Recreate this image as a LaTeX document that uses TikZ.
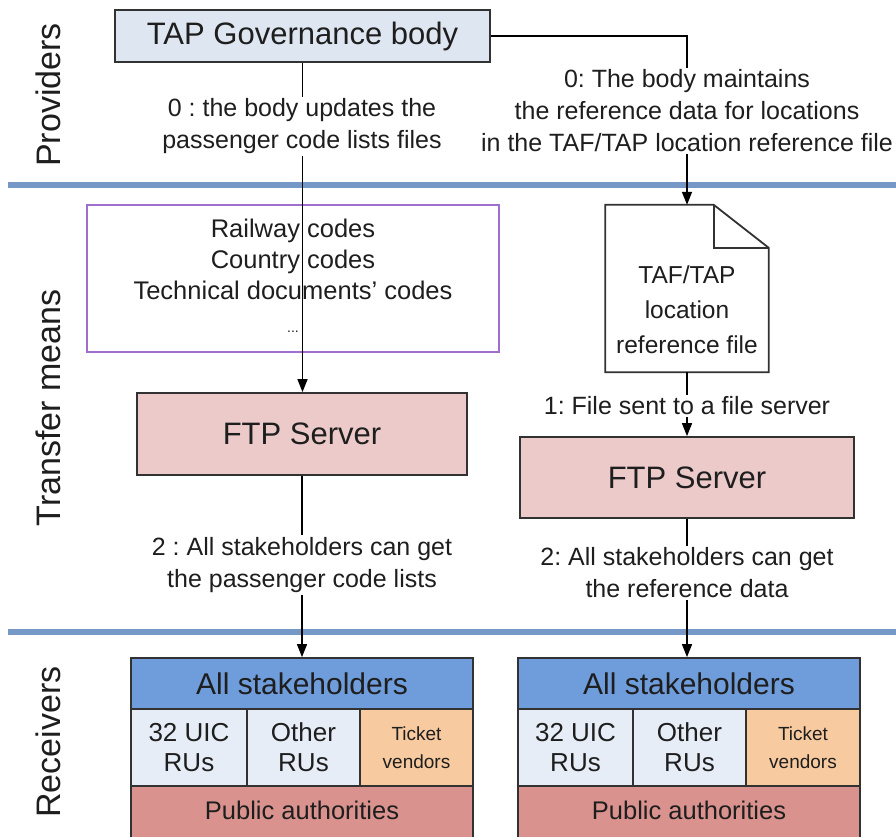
\documentclass[tikz,border=0pt]{standalone}
\usepackage{fontspec}
\setmainfont{Liberation Sans}
\frenchspacing
\usetikzlibrary{arrows.meta}
\definecolor{bandblue}{RGB}{118,152,198}
\definecolor{govfill}{RGB}{222,230,241}
\definecolor{framegray}{RGB}{50,50,50}
\definecolor{codesframe}{RGB}{160,110,205}
\definecolor{ftpfill}{RGB}{236,202,201}
\definecolor{allfill}{RGB}{111,156,218}
\definecolor{rufill}{RGB}{231,237,247}
\definecolor{vendorfill}{RGB}{248,202,160}
\definecolor{authfill}{RGB}{217,146,141}
\definecolor{inkgray}{RGB}{30,30,30}
\newcommand{\fsz}[2]{\fontsize{#1}{#2}\selectfont}
\tikzset{
  box/.style={draw=framegray, line width=1.8pt, minimum width=#1, inner sep=0pt, text=inkgray},
  lane/.style={rotate=90, text=inkgray, font=\fsz{34}{40}},
  flow/.style={draw=black, line width=1.5pt, -{Triangle[length=13pt,width=10pt]}},
  note/.style={fill=white, inner sep=2pt, align=center, text=inkgray, font=\fsz{25}{32}},
  band/.style={draw=bandblue, line width=6pt},
}
\begin{document}
\begin{tikzpicture}[x=1pt, y=-1pt]
\useasboundingbox (0,0) rectangle (896,836);
\clip (0,0) rectangle (896,836);

% lane titles and separators
\node[lane] (lprov) at (48,95) {Providers};
\node[lane] (ltrans) at (48,408) {Transfer means};
\node[lane] (lrecv) at (48,742) {Receivers};
\draw[band] (8,185) -- (896,185);
\draw[band] (8,632) -- (896,632);

% providers
\node[box=375pt, minimum height=52pt, fill=govfill, font=\fsz{31}{36}] (tap) at (302.5,36) {TAP Governance body};

% code lists (left column)
\node[draw=codesframe, line width=1.8pt, minimum width=412pt, minimum height=147pt, inner sep=0pt] (codes) at (293,278.5) {};
\node[align=center, inner sep=0pt, anchor=north, text=inkgray, font=\fsz{25.5}{31}] (codestxt) at (293,219) {Railway codes\\Country codes\\Technical documents’ codes\\[2pt]\fsz{14}{16}...};
\node[box=330pt, minimum height=82pt, fill=ftpfill, font=\fsz{31}{36}] (ftpL) at (302,434) {FTP Server};

% location reference file (right column)
\node[minimum width=163pt, minimum height=167pt, inner sep=0pt] (file) at (687,288.5) {};
\draw[draw=framegray, line width=1.8pt, fill=white, line join=miter]
  (file.north west) -- ([xshift=-55pt]file.north east) -- ([yshift=-43pt]file.north east)
  -- (file.south east) -- (file.south west) -- cycle;
\draw[draw=framegray, line width=1.8pt, line join=miter]
  ([xshift=-55pt]file.north east) |- ([yshift=-43pt]file.north east);
\node[align=center, inner sep=0pt, text=inkgray, font=\fsz{24.5}{35}] (filetxt) at (687,310) {TAF/TAP\\location\\reference file};
\node[box=334pt, minimum height=81pt, fill=ftpfill, font=\fsz{31}{36}] (ftpR) at (687,477.5) {FTP Server};

% receivers, left block
\node[box=342pt, minimum height=51pt, fill=allfill, font=\fsz{30}{36}] (allL) at (302,683.5) {All stakeholders};
\node[box=116pt, minimum height=77pt, fill=rufill, align=center, font=\fsz{26}{30}] (uicL) at (189,747.5) {32 UIC\\RUs};
\node[box=113pt, minimum height=77pt, fill=rufill, align=center, font=\fsz{26}{30}] (othL) at (303.5,747.5) {Other\\RUs};
\node[box=113pt, minimum height=77pt, fill=vendorfill, align=center, font=\fsz{19}{28}] (tixL) at (416.5,747.5) {Ticket\\vendors};
\node[box=342pt, minimum height=60pt, fill=authfill] (pubL) at (302,816) {};
\node[text=inkgray, font=\fsz{25.5}{30}, inner sep=0pt] (pubLtxt) at (302,810) {Public authorities};

% receivers, right block
\node[box=342pt, minimum height=51pt, fill=allfill, font=\fsz{30}{36}] (allR) at (689,683.5) {All stakeholders};
\node[box=115pt, minimum height=77pt, fill=rufill, align=center, font=\fsz{26}{30}] (uicR) at (575.5,747.5) {32 UIC\\RUs};
\node[box=113pt, minimum height=77pt, fill=rufill, align=center, font=\fsz{26}{30}] (othR) at (689.5,747.5) {Other\\RUs};
\node[box=114pt, minimum height=77pt, fill=vendorfill, align=center, font=\fsz{19}{28}] (tixR) at (803,747.5) {Ticket\\vendors};
\node[box=342pt, minimum height=60pt, fill=authfill] (pubR) at (689,816) {};
\node[text=inkgray, font=\fsz{25.5}{30}, inner sep=0pt] (pubRtxt) at (689,810) {Public authorities};

% connectors
\draw[flow] (tap.south) -- (tap.south |- ftpL.north);
\draw[flow] (ftpL.south) -- (ftpL.south |- allL.north);
\draw[flow] (tap.east) -| (file.north);
\draw[flow] (file.south) -- (file.south |- ftpR.north);
\draw[flow] (file.south |- ftpR.south) -- (file.south |- allR.north);

% connector labels
\node[note] (n0L) at (302,126.5) {0 : the body updates the\\passenger code lists files};
\node[note] (n0R) at (687,111) {0: The body maintains\\the reference data for locations\\in the TAF/TAP location reference file};
\node[note] (n1) at (687,406) {1: File sent to a file server};
\node[note] (n2L) at (302,565) {2 : All stakeholders can get\\the passenger code lists};
\node[note] (n2R) at (687,573) {2: All stakeholders can get\\the reference data};
\end{tikzpicture}
\end{document}
